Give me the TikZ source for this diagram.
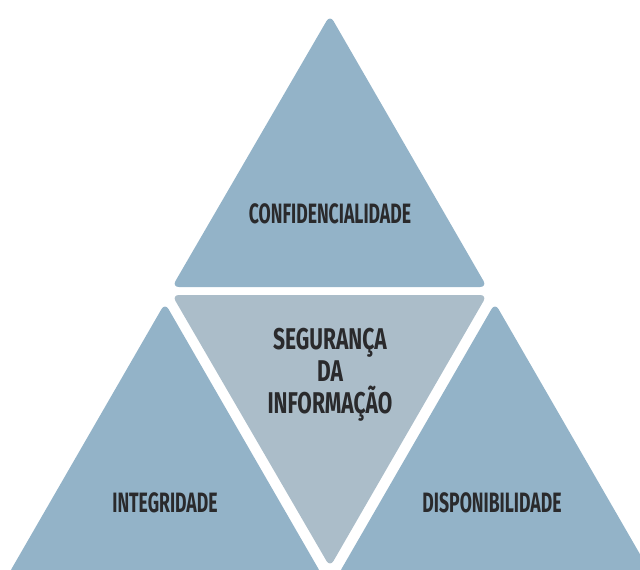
\documentclass[tikz,border=0pt]{standalone}
\usepackage{fontspec}
\newfontfamily\trifont[FakeStretch=0.63]{Fira Sans}
\newfontfamily\corefont[FakeStretch=0.7]{Fira Sans}
\usetikzlibrary{positioning}
\definecolor{triBlue}{HTML}{93B3C8}
\definecolor{triGrey}{HTML}{ABBDC9}
\definecolor{triText}{HTML}{2A2A2C}
\begin{document}
\begin{tikzpicture}[x=1pt, y=-1pt,
    side/.style={fill=triBlue, rounded corners=7pt},
    core/.style={fill=triGrey, rounded corners=7pt},
    tritext/.style={font=\trifont\bfseries\fontsize{28}{32}\selectfont, text=triText, align=center, inner sep=0pt}]
  \useasboundingbox (0,0) rectangle (640,570);
  \clip (0,0) rectangle (640,570);
  % four triangles
  \fill[side] (330,15) -- (487,287) -- (172,287) -- cycle;
  \fill[core] (172,295) -- (487,295) -- (330,567) -- cycle;
  \fill[side] (165,303) -- (322,575) -- (8,575) -- cycle;
  \fill[side] (495,303) -- (652,575) -- (338,575) -- cycle;
  % texts
  \node[tritext] (conf) at (330,214) {CONFIDENCIALIDADE};
  \node[tritext, font=\corefont\bfseries\fontsize{30}{32}\selectfont] (seg) at (330,375) {SEGURANÇA\\DA\\INFORMAÇÃO};
  \node[tritext] (integ) at (165,503) {INTEGRIDADE};
  \node[tritext] (disp) at (492,503) {DISPONIBILIDADE};
\end{tikzpicture}
\end{document}
